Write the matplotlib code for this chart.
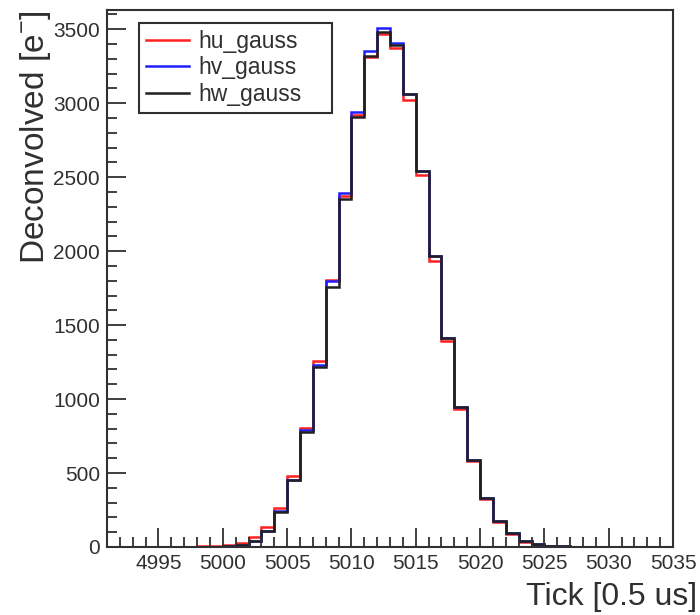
import numpy as np
import matplotlib
matplotlib.use("Agg")
import matplotlib.pyplot as plt
from matplotlib.ticker import MultipleLocator

plt.rcParams['font.family'] = ['Liberation Sans', 'DejaVu Sans']
plt.rcParams['mathtext.fontset'] = 'custom'
plt.rcParams['mathtext.rm'] = 'Liberation Sans'

# bin left edges (1 tick wide) and contents
edges = np.arange(4997, 5029)
hu = [3, 4, 6, 14, 30, 65, 135, 265, 480, 805, 1255, 1805, 2375, 2920, 3310, 3470,
      3370, 3020, 2515, 1935, 1390, 930, 578, 325, 170, 85, 35, 15, 6, 2, 1]
hv = [0, 1, 2, 6, 15, 42, 110, 240, 455, 790, 1230, 1800, 2390, 2940, 3350, 3510,
      3410, 3060, 2545, 1970, 1415, 945, 585, 330, 175, 92, 38, 18, 9, 5, 3]
hw = [0, 1, 2, 6, 15, 40, 108, 238, 452, 778, 1215, 1760, 2350, 2905, 3320, 3480,
      3395, 3060, 2545, 1968, 1415, 945, 585, 330, 175, 92, 38, 18, 8, 4, 1]

fig = plt.figure(figsize=(7, 6.15), dpi=100)
ax = fig.add_axes([107/700, 1-547/615, 566/700, 537/615])

ax.stairs(hu, edges, color='#ff2020', lw=1.8, label='hu_gauss')
ax.stairs(hv, edges, color='#2020ff', lw=1.8, label='hv_gauss')
ax.stairs(hw, edges, color='#202020', lw=1.8, label='hw_gauss')

ax.set_xlim(4991, 5035)
ax.set_ylim(0, 3630)
ax.xaxis.set_major_locator(MultipleLocator(5))
ax.xaxis.set_minor_locator(MultipleLocator(1))
ax.yaxis.set_major_locator(MultipleLocator(500))
ax.yaxis.set_minor_locator(MultipleLocator(100))
ax.tick_params(which='both', direction='in', top=False, right=False,
               width=1.3, colors='#303030', labelsize=15)
ax.tick_params(which='major', length=14, pad=5)
ax.tick_params(which='minor', length=7)
for s in ax.spines.values():
    s.set_linewidth(1.5)
    s.set_color('#303030')

ax.set_ylabel('Deconvolved [e$^{-}$]', fontsize=24, color='#303030')
ax.yaxis.set_label_coords(-0.096, 1.0)
ax.yaxis.label.set_ha('right')
fig.text(697/700, 1-597/615, 'Tick [0.5 us]', ha='right', va='center',
         fontsize=23, color='#303030')

leg = ax.legend(loc='upper left', bbox_to_anchor=(0.0565, 0.976, 0.341, 0.0),
                mode='expand', fancybox=False, edgecolor='#303030', fontsize=16.5,
                handlelength=1.9, handletextpad=0.4, labelspacing=0.15,
                borderpad=0.3, borderaxespad=0.0, framealpha=1)
leg.get_frame().set_linewidth(1.5)
for t in leg.get_texts():
    t.set_color('#303030')

fig.savefig('out.png', dpi=100)
